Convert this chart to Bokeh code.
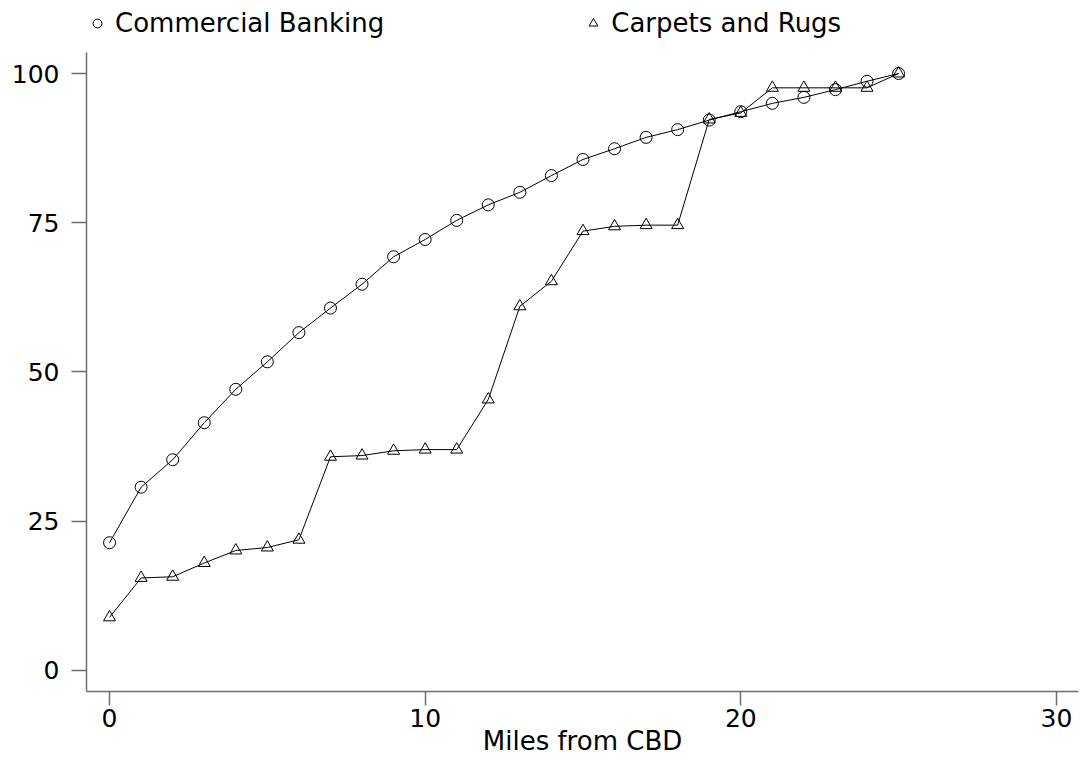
from bokeh.plotting import figure
from bokeh.models import Range1d, FixedTicker, Legend, LegendItem
from bokeh.embed import file_html
from bokeh.resources import INLINE

# ---- data ----
distance = list(range(26))
banking = [21.4, 30.7, 35.3, 41.5, 47.1, 51.7, 56.6, 60.7, 64.7, 69.3,
           72.2, 75.4, 78.0, 80.1, 82.9, 85.6, 87.4, 89.3, 90.6, 92.2,
           93.6, 95.0, 96.0, 97.3, 98.7, 100.0]
carpets = [8.9, 15.5, 15.7, 18.0, 20.1, 20.6, 21.9, 35.8, 36.0, 36.8,
           37.0, 37.0, 45.4, 61.0, 65.2, 73.6, 74.4, 74.6, 74.6, 92.3,
           93.4, 97.6, 97.6, 97.6, 97.6, 100.0]
series_names = ["Commercial Banking", "Carpets and Rugs"]
x_ticks = [0, 10, 20, 30]
y_ticks = [0, 25, 50, 75, 100]
x_label = "Miles from CBD"

FONT = "DejaVu Sans"
AX = "#6e6e6e"

# frame extends to the top of the canvas so the key can sit inside it;
# the y axis line itself is bounded to the data region
p = figure(frame_width=992, frame_height=691,
           min_border_left=86, min_border_right=4,
           min_border_top=0, min_border_bottom=60,
           x_range=Range1d(-0.73, 30.7), y_range=Range1d(-3.52, 112.23),
           output_backend="svg", toolbar_location=None,
           x_axis_label=x_label)

p.grid.visible = False
p.outline_line_color = None
p.background_fill_color = "white"
p.border_fill_color = "white"

p.xaxis.ticker = FixedTicker(ticks=x_ticks)
p.yaxis.ticker = FixedTicker(ticks=y_ticks)
p.yaxis.bounds = (-3.52, 103.5)
for ax in (p.xaxis, p.yaxis):
    ax.axis_line_color = AX
    ax.axis_line_width = 1.5
    ax.major_tick_line_color = AX
    ax.major_tick_line_width = 1.5
    ax.major_tick_in = 0
    ax.minor_tick_in = 0
    ax.minor_tick_out = 0
    ax.major_label_text_font = FONT
    ax.major_label_text_font_size = "25px"
    ax.major_label_text_color = "black"
p.yaxis.major_tick_out = 15
p.yaxis.major_label_standoff = 12
p.xaxis.major_tick_out = 14
p.xaxis.major_label_standoff = 3
p.xaxis.axis_label_text_font = FONT
p.xaxis.axis_label_text_font_size = "26px"
p.xaxis.axis_label_text_font_style = "normal"
p.xaxis.axis_label_text_color = "black"
p.xaxis.axis_label_standoff = -4

p.line(distance, banking, line_color="black", line_width=1)
p.line(distance, carpets, line_color="black", line_width=1)
r1 = p.scatter(distance, banking, marker="circle", size=12,
               fill_color=None, line_color="black", line_width=1)
r2 = p.scatter(distance, carpets, marker="triangle", size=12,
               fill_color=None, line_color="black", line_width=1)

legend = Legend(items=[LegendItem(label=series_names[0], renderers=[r1]),
                       LegendItem(label=series_names[1], renderers=[r2])],
                orientation="horizontal", location="top_left",
                glyph_width=22, glyph_height=46, label_height=46,
                label_width=20, label_standoff=7, spacing=198,
                padding=0, margin=0, border_line_color=None,
                background_fill_alpha=0,
                label_text_font=FONT, label_text_font_size="26px",
                label_text_color="black")
p.add_layout(legend, "center")

open("out.html", "w").write(file_html(p, INLINE))
